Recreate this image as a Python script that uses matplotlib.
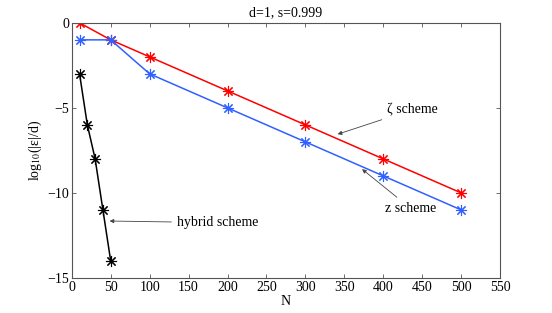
import matplotlib
matplotlib.use("Agg")
import matplotlib.pyplot as plt

plt.rcParams['font.family'] = ['Liberation Serif', 'DejaVu Serif']
plt.rcParams['mathtext.fontset'] = 'stix'

# zeta scheme
n_zeta = [10, 50, 100, 200, 300, 400, 500]
err_zeta = [0, -1, -2, -4, -6, -8, -10]
# z scheme
n_z = [10, 50, 100, 200, 300, 400, 500]
err_z = [-1, -1, -3, -5, -7, -9, -11]
# hybrid scheme
n_hyb = [10, 20, 30, 40, 50]
err_hyb = [-3, -6, -8, -11, -14]

fig = plt.figure(figsize=(5.52, 3.13), dpi=100)
ax = fig.add_axes([0.130, 0.112, 0.776, 0.815])

star = (8, 2, 0)
ax.plot(n_zeta, err_zeta, color='#ff0000', lw=1.1, marker=star, ms=8, mew=0.8)
ax.plot(n_z, err_z, color='#3060ff', lw=1.1, marker=star, ms=8, mew=0.8)
ax.plot(n_hyb, err_hyb, color='black', lw=1.1, marker=star, ms=8, mew=0.8)

arrow = dict(arrowstyle='-|>', color='#444444', lw=0.6, mutation_scale=6)
ax.annotate('ζ scheme', xy=(338, -6.6), xytext=(405, -5.1),
            fontsize=10, va='center', arrowprops=arrow)
ax.annotate('z scheme', xy=(370, -8.5), xytext=(402, -10.9),
            fontsize=10, va='center', arrowprops=arrow)
ax.annotate('hybrid scheme', xy=(45, -11.65), xytext=(135, -11.75),
            fontsize=10, va='center', arrowprops=arrow)

ax.set_xlim(0, 550)
ax.set_ylim(-15, 0)
ax.set_xticks(range(0, 551, 50))
ax.set_yticks([-15, -10, -5, 0])
ax.tick_params(direction='in', top=True, right=True, length=3, width=0.6,
               colors='#555555', labelcolor='black', labelsize=10, pad=2)
for s in ax.spines.values():
    s.set_color('#555555')
    s.set_linewidth(0.8)

ax.set_xlabel('N', fontsize=10, labelpad=1)
ax.set_ylabel(r'log$_{10}$(|ε|/d)', fontsize=10, labelpad=2)
ax.set_title('d=1, s=0.999', fontsize=10, pad=5)

fig.savefig('out.png', dpi=100)
